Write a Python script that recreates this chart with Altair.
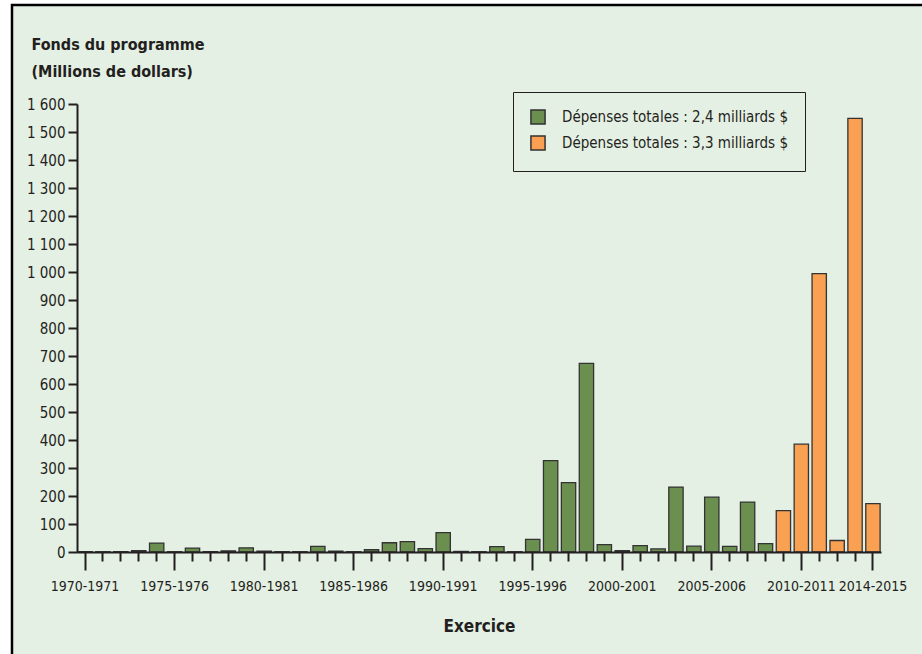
import altair as alt
import pandas as pd

years = [f"{y}-{y + 1}" for y in range(1970, 2015)]
values = [1, 1, 1, 5, 32, 1, 14, 1, 4, 15,
          3, 1, 1, 20, 3, 1, 8, 33, 37, 12,
          69, 2, 1, 19, 1, 45, 326, 248, 674, 26,
          5, 23, 11, 232, 21, 196, 20, 178, 30,
          148, 385, 994, 41, 1549, 173]
series_names = ["Dépenses totales : 2,4 milliards $", "Dépenses totales : 3,3 milliards $"]
series = [series_names[0]] * 39 + [series_names[1]] * 6
major_labels = ["1970-1971", "1975-1976", "1980-1981", "1985-1986", "1990-1991",
                "1995-1996", "2000-2001", "2005-2006", "2010-2011", "2014-2015"]
y_ticks = list(range(0, 1700, 100))

df = pd.DataFrame({"Exercice": years, "Fonds": values, "Serie": series})

BG = "#E5F0E4"
GREEN = "#6A8F4E"
ORANGE = "#F9A052"
FONT = "Liberation Sans Narrow, DejaVu Sans Condensed, sans-serif"
TXT = "#231F20"

W, H = 804, 448
LEFT, TOP = 77, 104

major_js = "[" + ",".join(f"'{m}'" for m in major_labels) + "]"

frame = alt.Chart(alt.Data(values=[{}])).mark_rect(
    fill=BG, stroke="black", strokeWidth=2.5
).encode(
    x=alt.value(12 - LEFT), x2=alt.value(922 - LEFT + 20),
    y=alt.value(5 - TOP), y2=alt.value(654 - TOP + 20),
)

bars = alt.Chart(df).mark_bar(stroke="#333333", strokeWidth=1.3).encode(
    x=alt.X("Exercice:N", sort=years,
            scale=alt.Scale(paddingInner=0.2, paddingOuter=0.05),
            axis=alt.Axis(
                zindex=2,
                title="Exercice", titleFont=FONT, titleFontSize=17, titleFontWeight="bold",
                titleColor=TXT, titlePadding=25,
                labelExpr=f"indexof({major_js}, datum.value) >= 0 ? datum.value : ''",
                labelAngle=0, labelFont=FONT, labelFontSize=14, labelColor=TXT,
                labelPadding=9, labelOverlap=False,
                tickSize={"condition": {"test": f"indexof({major_js}, datum.value) >= 0", "value": 18}, "value": 9},
                tickColor=TXT, tickWidth=2,
                domainColor=TXT, domainWidth=2,
            )),
    y=alt.Y("Fonds:Q", scale=alt.Scale(domain=[0, 1600], nice=False),
            axis=alt.Axis(
                zindex=2,
                title=["Fonds du programme", "(Millions de dollars)"],
                titleFont=FONT, titleFontSize=16, titleFontWeight="bold", titleColor=TXT,
                titleAngle=0, titleAlign="left", titleBaseline="alphabetic",
                titleX=31 - LEFT, titleY=49 - TOP, titleLineHeight=27,
                values=y_ticks,
                labelExpr="replace(format(datum.value, ','), ',', ' ')",
                labelFont=FONT, labelFontSize=15, labelColor=TXT, labelPadding=3,
                tickSize=9, tickColor=TXT, tickWidth=2,
                domainColor=TXT, domainWidth=2, grid=False,
            )),
    color=alt.Color("Serie:N", scale=alt.Scale(domain=series_names, range=[GREEN, ORANGE]),
                    legend=alt.Legend(
                        title=None, orient="none", legendX=513 - LEFT, legendY=92 - TOP,
                        symbolType="square", symbolSize=200, symbolStrokeColor="#333333",
                        symbolStrokeWidth=1.5, symbolOpacity=1,
                        labelFont=FONT, labelFontSize=15, labelColor=TXT, labelOffset=16,
                        rowPadding=4, padding=17, strokeColor=TXT, fillColor=BG,
                        labelLimit=400,
                    )),
)

chart = alt.layer(frame, bars).properties(
    width=W, height=H,
    autosize=alt.AutoSizeParams(type="none"),
    padding={"left": LEFT, "top": TOP, "right": 922 - LEFT - W, "bottom": 654 - TOP - H},
    background="white",
).configure_view(stroke=None)

chart.save("out.html", embed_options={"renderer": "svg", "actions": False})
